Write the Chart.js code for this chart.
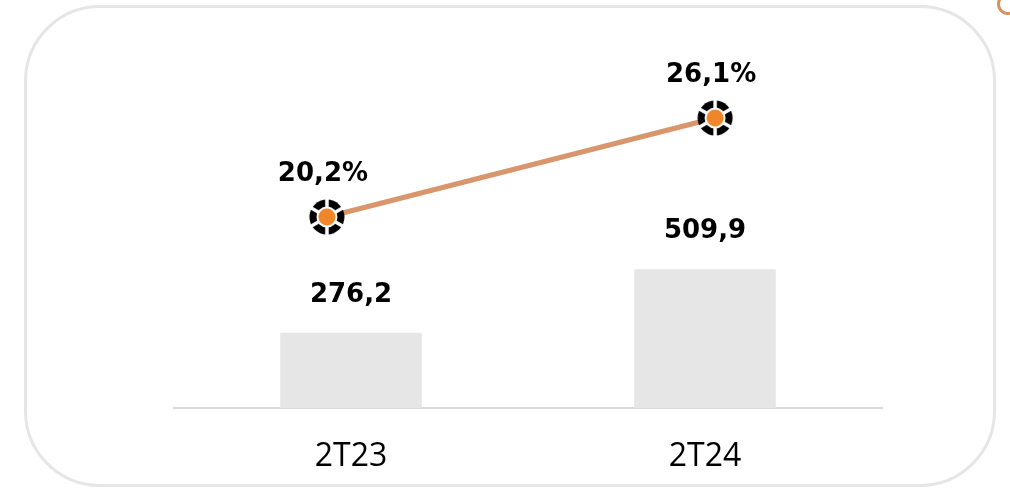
<!DOCTYPE html>
<html>
<head>
<meta charset="utf-8">
<script src="https://cdn.jsdelivr.net/npm/chart.js@4.4.1/dist/chart.umd.min.js"></script>
<style>
  html, body { margin: 0; padding: 0; background: #fff; }
  #wrap { position: relative; width: 1010px; height: 489px; overflow: hidden; }
  #frame {
    position: absolute; left: 24px; top: 5px; width: 966px; height: 476px;
    border: 3px solid #e6e6e6; border-radius: 76px;
  }
  #corner {
    position: absolute; left: 997px; top: -7px; width: 16px; height: 16px;
    border: 3px solid #d9925f; border-radius: 50%;
  }
  canvas { position: absolute; left: 0; top: 0; }
</style>
</head>
<body>
<div id="wrap">
  <div id="frame"></div>
  <div id="corner"></div>
  <canvas id="chart" width="1010" height="489"></canvas>
</div>
<script>
// Chart data
const periods = ['2T23', '2T24'];
const revenue = [276.2, 509.9];
const marginPct = [20.2, 26.1];

const fmt = v => v.toFixed(1).replace('.', ',');

// Marker: black disc cut into 6 pieces with an orange dot inside
function makeMarker() {
    const c = document.createElement('canvas');
    c.width = 38; c.height = 38;
    const g = c.getContext('2d');
    const cx = 19, cy = 19;
    g.fillStyle = '#000';
    g.beginPath(); g.arc(cx, cy, 17.5, 0, Math.PI * 2); g.fill();
    g.strokeStyle = '#fff';
    g.lineWidth = 3.5;
    for (let k = 0; k < 6; k++) {
        const a = -Math.PI / 2 + k * Math.PI / 3;
        g.beginPath();
        g.moveTo(cx, cy);
        g.lineTo(cx + Math.cos(a) * 19, cy + Math.sin(a) * 19);
        g.stroke();
    }
    g.fillStyle = '#fff';
    g.beginPath(); g.arc(cx, cy, 10.5, 0, Math.PI * 2); g.fill();
    g.fillStyle = '#f0862a';
    g.beginPath(); g.arc(cx, cy, 8.5, 0, Math.PI * 2); g.fill();
    return c;
}

// Value labels above bars and points
const valueLabels = {
    id: 'valueLabels',
    afterDatasetsDraw(chart) {
        const ctx = chart.ctx;
        ctx.save();
        ctx.font = 'bold 26px "DejaVu Sans", sans-serif';
        ctx.fillStyle = '#000';
        ctx.textAlign = 'center';
        ctx.textBaseline = 'alphabetic';
        chart.data.datasets.forEach((ds, i) => {
            const meta = chart.getDatasetMeta(i);
            const isLine = ds.type === 'line';
            meta.data.forEach((el, j) => {
                const raw = ds.data[j];
                const v = typeof raw === 'object' ? raw.y : raw;
                const text = fmt(v) + (isLine ? '%' : '');
                ctx.fillText(text, el.x + (isLine ? -4 : 0), el.y - (isLine ? 36 : 31));
            });
        });
        ctx.restore();
    }
};

new Chart(document.getElementById('chart'), {
    data: {
        labels: periods,
        datasets: [
            {
                type: 'line',
                label: 'Margem',
                data: marginPct.map((v, i) => ({ x: i, y: v })),
                xAxisID: 'xl',
                yAxisID: 'y2',
                borderColor: '#d9956b',
                borderWidth: 5,
                pointStyle: makeMarker(),
                order: 0
            },
            {
                type: 'bar',
                label: 'Receita',
                data: revenue,
                xAxisID: 'x',
                yAxisID: 'y',
                backgroundColor: '#e6e6e6',
                grouped: false,
                categoryPercentage: 1,
                barPercentage: 0.4,
                order: 1
            }
        ]
    },
    options: {
        responsive: false,
        animation: false,
        layout: { padding: { left: 174, right: 128, top: 20, bottom: 0 } },
        plugins: { legend: { display: false }, tooltip: { enabled: false } },
        scales: {
            x: {
                type: 'category',
                grid: { display: false },
                border: { display: true, color: '#d9d9d9', width: 2 },
                ticks: {
                    color: '#000',
                    padding: 22,
                    font: { family: '"Open Sans", sans-serif', size: 32 }
                },
                afterFit: scale => { scale.height = 81; }
            },
            xl: { type: 'linear', display: false, min: -0.394, max: 1.43 },
            y: { display: false, min: 0, max: 1426 },
            y2: { display: false, min: 8.82, max: 31.94 }
        }
    },
    plugins: [valueLabels]
});
</script>
</body>
</html>
